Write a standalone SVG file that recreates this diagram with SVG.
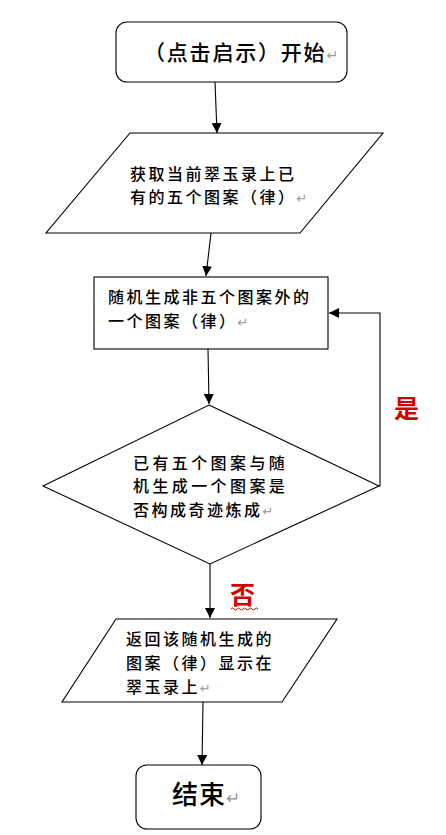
<svg xmlns="http://www.w3.org/2000/svg" width="446" height="835" viewBox="0 0 446 835">
<style>
.shape{fill:#fff;stroke:#000;stroke-width:1.1}
.t{font-family:"Noto Sans CJK SC","Noto Sans",sans-serif;fill:#000;font-size:16px;letter-spacing:2.5px;font-weight:500}
.big{font-size:21px;letter-spacing:1.8px}
.end{font-size:26px;letter-spacing:1px}
.ret{fill:#999;font-family:"DejaVu Sans",sans-serif;letter-spacing:0;font-weight:normal}
.red{font-family:"Noto Sans CJK SC",sans-serif;fill:#d40000;font-size:25px;font-weight:bold}
.con{fill:none;stroke:#000;stroke-width:1.1}
</style>
<defs>
<marker id="ah" viewBox="0 0 10 10" refX="10" refY="5" markerWidth="10" markerHeight="10" markerUnits="userSpaceOnUse" orient="auto">
<path d="M0,0 L10,5 L0,10 Z" fill="#000"/>
</marker>
</defs>
<rect width="446" height="835" fill="#fff"/>
<g id="connectors">
<line class="con" x1="215" y1="82" x2="217" y2="133" marker-end="url(#ah)"/>
<line class="con" x1="211" y1="233" x2="206" y2="276" marker-end="url(#ah)"/>
<line class="con" x1="208" y1="349" x2="209" y2="404" marker-end="url(#ah)"/>
<polyline class="con" points="379,486 380,486 380,313 329,313" marker-end="url(#ah)"/>
<line class="con" x1="210" y1="564" x2="210" y2="618" marker-end="url(#ah)"/>
<line class="con" x1="203" y1="702" x2="202" y2="765" marker-end="url(#ah)"/>
<text class="red" x="394" y="418">是</text>
<text class="red" x="230" y="604">否</text>
<path d="M231,609 q1.5,-2 3,0 t3,0 t3,0 t3,0 t3,0 t3,0 t3,0 t3,0 t3,0" fill="none" stroke="#d40000" stroke-width="1"/>
</g>
<g id="start">
<rect class="shape" x="116" y="22" width="231" height="60" rx="11"/>
<text class="t big" x="144" y="60">（点击启示）开始<tspan class="ret" font-size="14">↵</tspan></text>
</g>
<g id="input1">
<polygon class="shape" points="130,133 383,133 300,233 46,233"/>
<text class="t" x="130" y="180">获取当前翠玉录上已</text>
<text class="t" x="130" y="203">有的五个图案（律）<tspan class="ret" font-size="13">↵</tspan></text>
</g>
<g id="process1">
<rect class="shape" x="94" y="277" width="234" height="72"/>
<text class="t" x="108" y="303">随机生成非五个图案外的</text>
<text class="t" x="108" y="327">一个图案（律）<tspan class="ret" font-size="13">↵</tspan></text>
</g>
<g id="decision">
<polygon class="shape" points="209,405 379,486 210,564 43,486"/>
<text class="t" x="133" y="469" style="letter-spacing:3.4px">已有五个图案与随</text>
<text class="t" x="133" y="492" style="letter-spacing:3.4px">机生成一个图案是</text>
<text class="t" x="133" y="516" style="letter-spacing:2.5px">否构成奇迹炼成<tspan class="ret" font-size="13">↵</tspan></text>
</g>
<g id="output">
<polygon class="shape" points="116,619 337,619 282,702 62,702"/>
<text class="t" x="126" y="645">返回该随机生成的</text>
<text class="t" x="126" y="669">图案（律）显示在</text>
<text class="t" x="126" y="693">翠玉录上<tspan class="ret" font-size="13">↵</tspan></text>
</g>
<g id="end">
<rect class="shape" x="136" y="765" width="125" height="64" rx="11"/>
<text class="t end" x="172" y="804">结束<tspan class="ret" font-size="17">↵</tspan></text>
</g>
</svg>
